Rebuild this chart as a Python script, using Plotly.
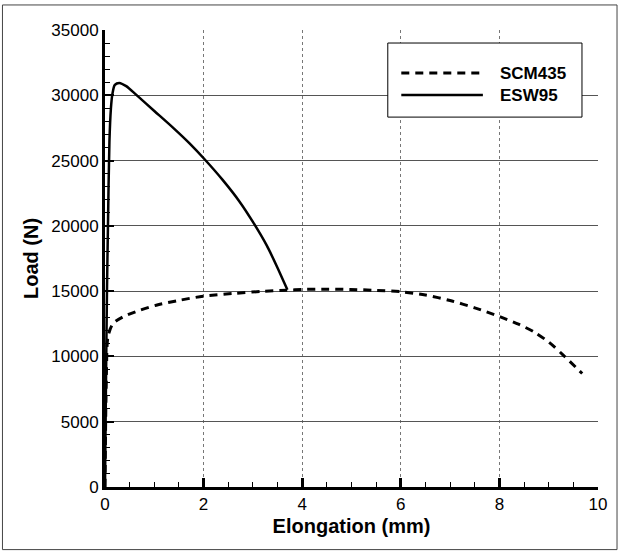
import plotly.graph_objects as go

# ---- data ----
scm_x = [0, 0.03, 0.06, 0.16, 0.36, 0.70, 1.04, 1.51, 1.99, 2.6, 3.21, 3.68, 4.02, 4.5,
         4.97, 5.5, 6.02, 6.5, 7.0, 7.5, 8.02, 8.4, 8.7, 9.0, 9.31, 9.68]
scm_y = [0, 9000, 11500, 12500, 13020, 13530, 13920, 14300, 14610, 14820, 14990, 15070,
         15130, 15150, 15130, 15060, 14950, 14700, 14280, 13720, 13030, 12450, 11880,
         11100, 10050, 8690]

esw_x = [0, 0.02, 0.04, 0.06, 0.09, 0.12, 0.15, 0.2, 0.29, 0.43, 0.63, 1.0, 1.4, 1.72,
         2.02, 2.39, 2.73, 3.0, 3.28, 3.48, 3.7]
esw_y = [0, 8000, 15000, 20000, 26500, 29000, 30100, 30800, 30950, 30700, 30050, 28800,
         27450, 26300, 25100, 23500, 21850, 20300, 18500, 16950, 15100]

series_names = ["SCM435", "ESW95"]
x_ticks = [0, 2, 4, 6, 8, 10]
y_ticks = [0, 5000, 10000, 15000, 20000, 25000, 30000, 35000]

FONT = "Arial, Liberation Sans, Helvetica, sans-serif"

fig = go.Figure()
fig.add_trace(go.Scatter(x=scm_x, y=scm_y, mode="lines", name=series_names[0],
                         line=dict(color="black", width=3, dash="8px,6px", shape="spline",
                                   smoothing=0.8),
                         showlegend=False))
fig.add_trace(go.Scatter(x=esw_x, y=esw_y, mode="lines", name=series_names[1],
                         line=dict(color="black", width=2.5, shape="spline", smoothing=0.8),
                         showlegend=False))

fig.update_layout(
    width=622, height=558,
    margin=dict(l=105, r=24, t=30, b=71),
    paper_bgcolor="white", plot_bgcolor="white",
    font=dict(family=FONT, color="black", size=17),
    showlegend=False,
)

fig.update_xaxes(
    range=[0, 10], tickvals=x_ticks, ticktext=[str(v) for v in x_ticks],
    showline=True, linecolor="black", linewidth=3,
    ticks="inside", ticklen=9, tickwidth=2.5, tickcolor="black",
    minor=dict(dtick=0.5, ticks="inside", ticklen=5, tickwidth=1, tickcolor="black",
               showgrid=False),
    showgrid=True, gridcolor="#777777", gridwidth=1, griddash="dot",
    zeroline=False,
    tickfont=dict(size=17),
    title=dict(text="<b>Elongation (mm)</b>", font=dict(size=20), standoff=6),
)
fig.update_yaxes(
    range=[0, 35000], tickvals=y_ticks, ticktext=[str(v) for v in y_ticks],
    showline=True, linecolor="black", linewidth=3,
    ticks="inside", ticklen=9, tickwidth=2, tickcolor="black",
    minor=dict(dtick=1000, ticks="inside", ticklen=5, tickwidth=1, tickcolor="black",
               showgrid=False),
    showgrid=True, gridcolor="#555555", gridwidth=1,
    zeroline=False,
    tickfont=dict(size=17),
    title=dict(text="<b>Load (N)</b>", font=dict(size=20), standoff=8),
)

# outer frame around the whole figure
fig.add_shape(type="rect", xref="paper", yref="paper",
              x0=-0.208, x1=1.0386, y0=-0.137, y1=1.0548,
              line=dict(color="#444444", width=1), layer="below")

# legend box drawn manually (long line samples like the reference)
fig.add_shape(type="rect", xref="paper", yref="paper",
              x0=0.5736, x1=0.9675, y0=0.8094, y1=0.9715,
              line=dict(color="black", width=1), fillcolor="white", layer="above")
fig.add_shape(type="line", xref="paper", yref="paper",
              x0=0.601, x1=0.7665, y0=0.9058, y1=0.9058,
              line=dict(color="black", width=3, dash="8px,6px"), layer="above")
fig.add_shape(type="line", xref="paper", yref="paper",
              x0=0.601, x1=0.7665, y0=0.8576, y1=0.8576,
              line=dict(color="black", width=2.5), layer="above")
for name, yy in zip(series_names, [0.9058, 0.8576]):
    fig.add_annotation(xref="paper", yref="paper", x=0.797, y=yy, text="<b>%s</b>" % name,
                       showarrow=False, xanchor="left", yanchor="middle",
                       font=dict(size=17, family=FONT, color="black"))

fig.write_html("out.html")
